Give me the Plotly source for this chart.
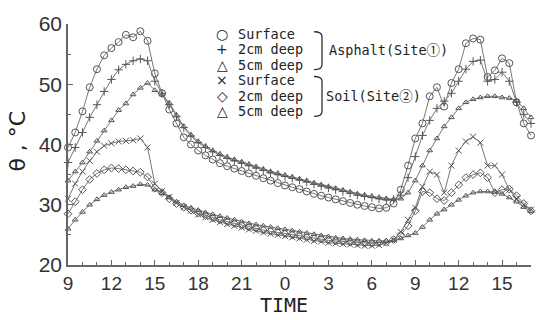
import plotly.graph_objects as go

# time in hours from 0:00 of day 1 (30-min steps, 9:00 .. 17:00 next day)
hours = [9 + 0.5 * i for i in range(65)]

asphalt_surface = [39.5, 42.0, 45.5, 49.5, 52.5, 54.8, 56.0, 57.0, 58.2, 57.8, 58.8, 57.2, 51.8, 48.5,
                   45.8, 43.5, 41.2, 40.0, 39.0, 38.2, 37.5, 36.9, 36.4, 36.0, 35.6, 35.2, 34.8, 34.4,
                   34.0, 33.6, 33.2, 32.9, 32.6, 32.2, 31.8, 31.5, 31.2, 30.9, 30.6, 30.3, 30.0, 29.8,
                   29.6, 29.4, 29.5, 30.2, 32.5, 36.5, 41.0, 43.5, 48.0, 49.5, 46.3, 50.2, 52.5, 56.8,
                   57.6, 57.4, 51.2, 52.3, 54.3, 53.5, 47.0, 43.5, 41.5]
asphalt_2cm = [37.0, 39.5, 42.0, 44.5, 46.6, 48.8, 50.8, 52.4, 53.3, 53.9, 54.2, 53.9, 50.5, 48.5,
               46.6, 44.6, 42.8, 41.4, 40.3, 39.5, 38.8, 38.2, 37.7, 37.3, 36.9, 36.5, 36.1, 35.7,
               35.3, 35.0, 34.7, 34.4, 34.1, 33.8, 33.4, 33.1, 32.8, 32.5, 32.2, 31.9, 31.6, 31.4,
               31.2, 31.0, 30.8, 30.9, 31.6, 34.5, 38.0, 41.5, 44.0, 46.0, 47.2, 48.5, 50.5, 52.5,
               53.8, 54.0, 50.5, 50.8, 52.0, 50.5, 47.0, 45.0, 43.5]
asphalt_5cm = [34.0, 35.5, 37.0, 38.8, 40.6, 42.3, 44.0, 45.7, 46.8, 48.3, 49.4, 50.2, 49.0, 48.3,
               46.9, 44.9, 43.0, 41.6, 40.5, 39.7, 39.0, 38.4, 37.9, 37.5, 37.1, 36.7, 36.3, 35.9,
               35.5, 35.2, 34.9, 34.6, 34.3, 34.0, 33.6, 33.3, 33.0, 32.7, 32.4, 32.1, 31.8, 31.6,
               31.4, 31.2, 31.0, 30.9, 31.0, 32.0, 34.0, 36.5, 39.0, 41.0, 43.0, 44.5, 46.0, 47.0,
               47.5, 47.8, 48.0, 48.0, 47.8, 47.7, 47.3, 46.0, 44.5]
soil_surface = [31.0, 33.5, 35.5, 37.3, 38.8, 39.8, 40.2, 40.5, 40.6, 40.7, 41.0, 39.5, 33.5, 32.3,
                31.3, 30.3, 29.6, 29.0, 28.4, 27.9, 27.5, 27.1, 26.8, 26.5, 26.2, 25.9, 25.7, 25.4,
                25.2, 25.0, 24.8, 24.6, 24.4, 24.2, 24.0, 23.9, 23.7, 23.6, 23.5, 23.4, 23.3, 23.2,
                23.2, 23.3, 23.6, 24.2, 25.5, 27.5, 29.5, 33.0, 35.5, 35.0, 32.0, 36.5, 39.0, 40.5,
                41.3, 40.3, 36.5, 36.5, 35.0, 32.5, 31.0, 30.0, 29.2]
soil_2cm = [28.5, 30.5, 32.5, 34.2, 35.2, 35.8, 36.1, 36.0, 35.8, 35.6, 35.4, 34.6, 32.8, 32.0,
            31.0, 30.2, 29.6, 29.1, 28.6, 28.2, 27.8, 27.5, 27.2, 26.9, 26.6, 26.3, 26.1, 25.8,
            25.6, 25.4, 25.2, 25.0, 24.8, 24.6, 24.4, 24.3, 24.1, 24.0, 23.9, 23.8, 23.7, 23.6,
            23.6, 23.7, 23.8, 24.2, 25.0, 26.5, 29.0, 32.2, 32.0, 31.0, 30.7, 32.0, 33.3, 34.5,
            35.0, 35.3, 34.5, 32.0, 32.5, 32.6, 31.5, 30.2, 29.0]
soil_5cm = [26.0, 27.5, 28.8, 30.0, 30.9, 31.6, 32.1, 32.5, 32.9, 33.1, 33.4, 33.3, 32.5, 31.9,
            31.2, 30.5, 29.9, 29.5, 29.1, 28.7, 28.4, 28.1, 27.8, 27.5, 27.2, 26.9, 26.7, 26.5,
            26.3, 26.1, 25.9, 25.7, 25.5, 25.3, 25.1, 24.9, 24.7, 24.5, 24.4, 24.3, 24.2, 24.1,
            24.0, 24.0, 24.0, 24.1, 24.4, 24.9, 25.3, 26.3, 27.5, 28.5, 29.2, 30.0, 30.8, 31.5,
            32.0, 32.2, 32.2, 32.1, 31.8, 31.2, 30.5, 29.6, 28.9]

tick_vals = [9, 12, 15, 18, 21, 24, 27, 30, 33, 36, 39]
tick_text = ["9", "12", "15", "18", "21", "0", "3", "6", "9", "12", "15"]

legend_rows = [("○", "Surface"), ("+", "2cm deep"), ("△", "5cm deep"),
               ("×", "Surface"), ("◇", "2cm deep"), ("△", "5cm deep")]
group_labels = ["Asphalt(Site①)", "Soil(Site②)"]

series = [
    (asphalt_surface, "circle-open", 7),
    (asphalt_2cm, "cross-thin-open", 6),
    (asphalt_5cm, "triangle-up-open", 5),
    (soil_surface, "x-thin-open", 6),
    (soil_2cm, "diamond-open", 6),
    (soil_5cm, "triangle-up-open", 5),
]

W, H = 544, 320
L, R, T, B = 68, 531, 17, 265


def px(x):
    return (x - L) / (R - L)


def py(y):
    return (B - y) / (B - T)


fig = go.Figure()
for vals, sym, sz in series:
    fig.add_trace(go.Scatter(
        x=hours, y=vals, mode="lines+markers",
        line=dict(color="#777777", width=1),
        marker=dict(symbol=sym, size=sz, color="#555555", line=dict(width=1, color="#555555")),
        showlegend=False, cliponaxis=False))

ann = []
row_y = [27, 43, 59, 75, 91, 107]
for (sym, txt), yy in zip(legend_rows, row_y):
    ann.append(dict(x=px(222), y=py(yy), xref="paper", yref="paper", text=sym, showarrow=False,
                    xanchor="center", yanchor="middle",
                    font=dict(family="DejaVu Sans", size=14, color="#222")))
    ann.append(dict(x=px(236), y=py(yy), xref="paper", yref="paper", text=txt, showarrow=False,
                    xanchor="left", yanchor="middle",
                    font=dict(family="DejaVu Sans Mono", size=13.5, color="#222")))
ann.append(dict(x=px(327), y=py(44), xref="paper", yref="paper", text=group_labels[0], showarrow=False,
                xanchor="left", yanchor="middle",
                font=dict(family="DejaVu Sans Mono, Noto Sans CJK JP", size=13.5, color="#222")))
ann.append(dict(x=px(324), y=py(91), xref="paper", yref="paper", text=group_labels[1], showarrow=False,
                xanchor="left", yanchor="middle",
                font=dict(family="DejaVu Sans Mono, Noto Sans CJK JP", size=13.5, color="#222")))
ann.append(dict(x=px(284), y=py(306), xref="paper", yref="paper", text="TIME", showarrow=False,
                xanchor="center", yanchor="middle",
                font=dict(family="DejaVu Sans Mono", size=20, color="#222")))
ann.append(dict(x=px(18), y=py(138), xref="paper", yref="paper", text="θ , °C", showarrow=False,
                textangle=-90, xanchor="center", yanchor="middle",
                font=dict(family="DejaVu Sans", size=22, color="#222")))


def brace(x0, x1, y0, y1):
    return (f"M {px(x0)} {py(y0)} Q {px(x1)} {py(y0)} {px(x1)} {py(y0 + 5)} "
            f"L {px(x1)} {py(y1 - 5)} Q {px(x1)} {py(y1)} {px(x0)} {py(y1)}")


shapes = [
    dict(type="path", xref="paper", yref="paper", path=brace(314, 322, 25, 64),
         line=dict(color="#333", width=1.3)),
    dict(type="path", xref="paper", yref="paper", path=brace(314, 322, 71, 112),
         line=dict(color="#333", width=1.3)),
]

fig.update_layout(
    width=W, height=H,
    margin=dict(l=L, r=W - R, t=T, b=H - B),
    paper_bgcolor="white", plot_bgcolor="white",
    annotations=ann, shapes=shapes,
    xaxis=dict(range=[9, 41], tickvals=tick_vals, ticktext=tick_text,
               showgrid=False, zeroline=False, showline=True, linecolor="#666", linewidth=1.5,
               ticks="inside", ticklen=5, tickwidth=1.2, tickcolor="#666",
               ticklabelstandoff=0,
               minor=dict(dtick=1, ticks="inside", ticklen=3, tickcolor="#666", showgrid=False),
               tickfont=dict(family="Liberation Sans", size=19, color="#333")),
    yaxis=dict(range=[20, 60], tickvals=[20, 30, 40, 50, 60],
               showgrid=False, zeroline=False, showline=True, linecolor="#666", linewidth=1.5,
               ticks="inside", ticklen=5, tickwidth=1.2, tickcolor="#666",
               minor=dict(dtick=5, ticks="inside", ticklen=3, tickcolor="#666", showgrid=False),
               tickfont=dict(family="Liberation Sans", size=21, color="#333")),
)

fig.write_html("out.html")
